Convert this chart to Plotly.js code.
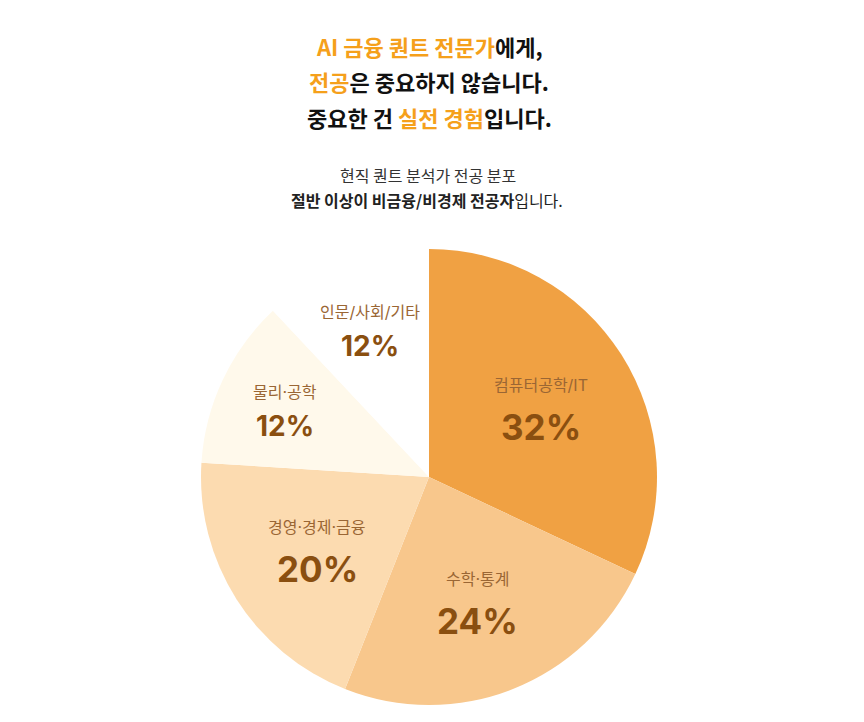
<!DOCTYPE html>
<html>
<head>
<meta charset="utf-8">
<script src="https://cdn.plot.ly/plotly-3.0.1.min.js"></script>
<style>
html,body{margin:0;padding:0;background:#fff;}
#chart{width:864px;height:722px;}
</style>
</head>
<body>
<div id="chart"></div>
<script>
const categories = ['컴퓨터공학/IT', '수학·통계', '경영·경제·금융', '물리·공학', '인문/사회/기타'];
const values = [32, 24, 20, 12, 12];
const sliceColors = ['#F0A143', '#F8C78C', '#FCDBB0', '#FFF9EB', '#FFFFFF'];

const W = 864, H = 722;
const cx = 429, cy = 477, R = 228;
const ORANGE = '#F5A01B';
const FONT = '"Noto Sans CJK KR", "Noto Sans", sans-serif';
const LABELFONT = 'Inter, "Noto Sans CJK KR", sans-serif';
const NUMFONT = 'Inter, "Noto Sans CJK KR", sans-serif';

const domainX = [(cx - R) / W, (cx + R) / W];
const domainY = [1 - (cy + R) / H, 1 - (cy - R) / H];

const annotations = [];
const total = values.reduce((a, b) => a + b, 0);
let cum = 0;
values.forEach((v, i) => {
  const mid = (cum + v / 2) / total * 2 * Math.PI;
  cum += v;
  const big = v >= 20;
  const f = big ? 0.58 : 0.7;
  const px = cx + f * R * Math.sin(mid);
  const py = cy - f * R * Math.cos(mid);
  const off = big ? 21 : 17;
  annotations.push({
    xref: 'paper', yref: 'paper', x: px / W, y: 1 - py / H,
    xanchor: 'center', yanchor: 'middle', showarrow: false, yshift: off,
    text: categories[i], font: {family: LABELFONT, size: 16, color: '#9A6634'}
  });
  annotations.push({
    xref: 'paper', yref: 'paper', x: px / W, y: 1 - py / H,
    xanchor: 'center', yanchor: 'middle', showarrow: false, yshift: -off,
    text: '<b>' + v + '%</b>', font: {family: NUMFONT, size: big ? 35 : 28, color: '#8A4F10'}
  });
});

const titleLines = [
  {y: 46, text: '<b><span style="color:' + ORANGE + '">AI 금융 퀀트 전문가</span>에게,</b>'},
  {y: 81, text: '<b><span style="color:' + ORANGE + '">전공</span>은 중요하지 않습니다.</b>'},
  {y: 117, text: '<b>중요한 건 <span style="color:' + ORANGE + '">실전 경험</span>입니다.</b>'}
];
titleLines.forEach(t => annotations.push({
  xref: 'paper', yref: 'paper', x: 429 / W, y: 1 - t.y / H,
  xanchor: 'center', yanchor: 'middle', showarrow: false,
  text: t.text, font: {family: FONT, size: 22, color: '#111111'}
}));
annotations.push({
  xref: 'paper', yref: 'paper', x: 428 / W, y: 1 - 175 / H,
  xanchor: 'center', yanchor: 'middle', showarrow: false,
  text: '현직 퀀트 분석가 전공 분포', font: {family: FONT, size: 16, color: '#333333'}
});
annotations.push({
  xref: 'paper', yref: 'paper', x: 427 / W, y: 1 - 200 / H,
  xanchor: 'center', yanchor: 'middle', showarrow: false,
  text: '<b>절반 이상이 비금융/비경제 전공자</b>입니다.', font: {family: FONT, size: 16, color: '#222222'}
});

const trace = {
  type: 'pie',
  labels: categories,
  values: values,
  sort: false,
  direction: 'clockwise',
  rotation: 0,
  textinfo: 'none',
  hoverinfo: 'none',
  marker: {colors: sliceColors, line: {width: 0}},
  domain: {x: domainX, y: domainY}
};

Plotly.newPlot('chart', [trace], {
  width: W, height: H,
  margin: {l: 0, r: 0, t: 0, b: 0},
  paper_bgcolor: '#ffffff',
  showlegend: false,
  annotations: annotations
}, {displayModeBar: false, staticPlot: true});
</script>
</body>
</html>
